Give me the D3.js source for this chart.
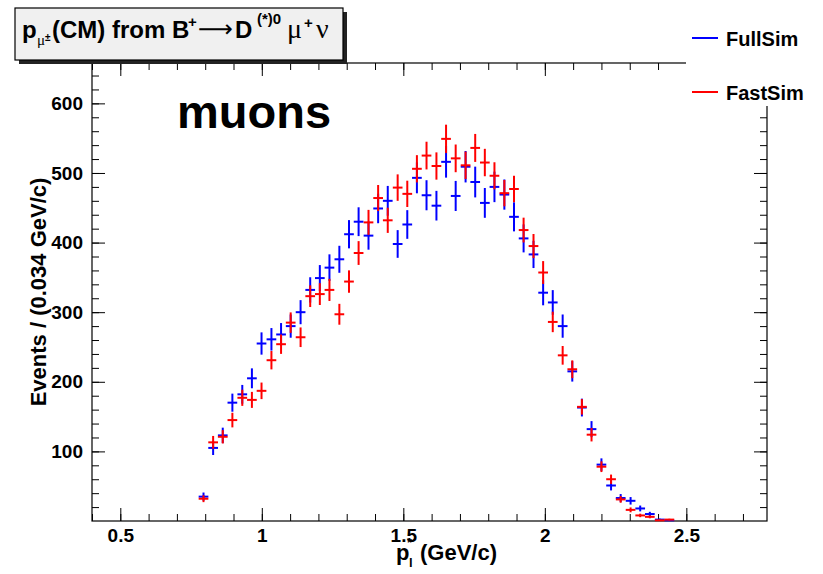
<!DOCTYPE html>
<html>
<head>
<meta charset="utf-8">
<script src="https://d3js.org/d3.v7.min.js"></script>
<style>
  body { margin: 0; background: #fff; }
  svg { display: block; font-family: "Liberation Sans", Arial, sans-serif; }
</style>
</head>
<body>
<div id="chart"></div>
<script>
// bin centres in GeV/c (bins of ~0.034 GeV/c)
var binCentres = [0.794, 0.828, 0.862, 0.896, 0.931, 0.965, 0.999, 1.034, 1.068, 1.102,
  1.137, 1.171, 1.205, 1.239, 1.274, 1.308, 1.342, 1.377, 1.411, 1.445,
  1.480, 1.514, 1.548, 1.582, 1.617, 1.651, 1.685, 1.720, 1.754, 1.788,
  1.822, 1.857, 1.891, 1.925, 1.960, 1.994, 2.028, 2.063, 2.097, 2.131,
  2.165, 2.200, 2.234, 2.268, 2.303, 2.337, 2.371, 2.406, 2.440];
var binWidth = 0.0343;

// FullSim (blue) events per bin and errors
var fullSim = [35, 105, 123, 170, 182, 205, 255, 261, 268, 280,
  300, 332, 349, 364, 376, 412, 430, 410, 449, 460,
  398, 426, 493, 468, 453, 516, 467, 509, 487, 457,
  480, 469, 437, 406, 383, 328, 314, 280, 215, 163,
  132, 81, 51, 33, 29, 18, 10, 2, 1];
var fullSimErr = [5.9, 10.2, 11.1, 13.0, 13.5, 14.3, 16.0, 16.2, 16.4, 16.7,
  17.3, 18.2, 18.7, 19.1, 19.4, 20.3, 20.7, 20.2, 21.2, 21.4,
  19.9, 20.6, 22.2, 21.6, 21.3, 22.7, 21.6, 22.6, 22.1, 21.4,
  21.9, 21.7, 20.9, 20.1, 19.6, 18.1, 17.7, 16.7, 14.7, 12.8,
  11.5, 9.0, 7.1, 5.7, 5.4, 4.2, 3.2, 1.4, 1.0];

// FastSim (red) events per bin and errors
var fastSim = [32, 113, 121, 145, 177, 174, 187, 231, 254, 285,
  264, 323, 326, 332, 297, 344, 385, 429, 464, 432,
  479, 470, 506, 525, 510, 549, 521, 511, 536, 515,
  496, 471, 477, 418, 395, 357, 286, 238, 218, 164,
  124, 78, 60, 31, 16, 8, 6, 1, 2];
var fastSimErr = [4.9, 9.2, 9.6, 10.5, 11.6, 11.5, 11.9, 13.2, 13.9, 14.7,
  14.1, 15.6, 15.7, 15.9, 15.0, 16.1, 17.1, 18.0, 18.7, 18.1,
  19.0, 18.9, 19.6, 19.9, 19.6, 20.4, 19.9, 19.7, 20.1, 19.7,
  19.4, 18.9, 19.0, 17.8, 17.3, 16.4, 14.7, 13.4, 12.8, 11.1,
  9.7, 7.7, 6.7, 4.8, 3.5, 2.5, 2.1, 0.9, 1.2];

var xTickValues = [0.5, 1, 1.5, 2, 2.5];
var yTickValues = [100, 200, 300, 400, 500, 600];

var seriesNames = ["FullSim", "FastSim"];
var seriesColors = ["#0000ff", "#ff0000"];

// SVG area
var svgWidth = 823;
var svgHeight = 574;

var chartMargin = {
  top: 63,
  right: 56,
  bottom: 53,
  left: 92
};

var chartWidth = svgWidth - chartMargin.left - chartMargin.right;
var chartHeight = svgHeight - chartMargin.top - chartMargin.bottom;

var svg = d3.select("#chart").append("svg")
  .attr("width", svgWidth)
  .attr("height", svgHeight);

var chartGroup = svg.append("g")
  .attr("transform", `translate(${chartMargin.left}, ${chartMargin.top})`);

var xScale = d3.scaleLinear().domain([0.4, 2.785]).range([0, chartWidth]);
var yScale = d3.scaleLinear().domain([0, 658]).range([chartHeight, 0]);

var xMinor = d3.range(0.4, 2.79, 0.1).map(d => +d.toFixed(1));
var yMinor = d3.range(20, 658, 20);

function styleAxis(g, size) {
  g.select(".domain").remove();
  g.selectAll("line").attr("stroke", "#000").attr("stroke-width", 1);
  g.selectAll("text")
    .attr("fill", "#000")
    .style("font-size", size + "px")
    .style("font-weight", "bold")
    .style("font-family", "'Liberation Sans', Arial, sans-serif");
}

// bottom axis: labels + major ticks, then minor ticks
chartGroup.append("g")
  .attr("transform", `translate(0, ${chartHeight})`)
  .call(d3.axisBottom(xScale).tickValues(xTickValues).tickSize(-13).tickPadding(8).tickFormat(d3.format("")))
  .call(g => styleAxis(g, 19));
chartGroup.append("g")
  .attr("transform", `translate(0, ${chartHeight})`)
  .call(d3.axisBottom(xScale).tickValues(xMinor).tickSize(-7).tickFormat(""))
  .call(g => styleAxis(g, 19));

// top axis ticks
chartGroup.append("g")
  .call(d3.axisTop(xScale).tickValues(xTickValues).tickSize(-13).tickFormat(""))
  .call(g => styleAxis(g, 19));
chartGroup.append("g")
  .call(d3.axisTop(xScale).tickValues(xMinor).tickSize(-7).tickFormat(""))
  .call(g => styleAxis(g, 19));

// left axis
chartGroup.append("g")
  .call(d3.axisLeft(yScale).tickValues(yTickValues).tickSize(-13).tickPadding(9).tickFormat(d3.format("d")))
  .call(g => styleAxis(g, 19));
chartGroup.append("g")
  .call(d3.axisLeft(yScale).tickValues(yMinor).tickSize(-7).tickFormat(""))
  .call(g => styleAxis(g, 19));

// right axis ticks
chartGroup.append("g")
  .attr("transform", `translate(${chartWidth}, 0)`)
  .call(d3.axisRight(yScale).tickValues(yTickValues).tickSize(-13).tickFormat(""))
  .call(g => styleAxis(g, 19));
chartGroup.append("g")
  .attr("transform", `translate(${chartWidth}, 0)`)
  .call(d3.axisRight(yScale).tickValues(yMinor).tickSize(-7).tickFormat(""))
  .call(g => styleAxis(g, 19));

// frame
chartGroup.append("rect")
  .attr("width", chartWidth)
  .attr("height", chartHeight)
  .attr("fill", "none")
  .attr("stroke", "#000")
  .attr("stroke-width", 1.2);

// data points with error bars
function drawSeries(values, errors, color) {
  var pts = chartGroup.append("g")
    .attr("stroke", color)
    .attr("stroke-width", 2)
    .selectAll("g")
    .data(values.map((v, i) => ({x: binCentres[i], y: v, e: errors[i]})))
    .enter()
    .append("g");

  pts.append("line")
    .attr("x1", d => xScale(d.x))
    .attr("x2", d => xScale(d.x))
    .attr("y1", d => yScale(Math.max(0, d.y - d.e)))
    .attr("y2", d => yScale(d.y + d.e));

  pts.append("line")
    .attr("x1", d => xScale(d.x - binWidth / 2))
    .attr("x2", d => xScale(d.x + binWidth / 2))
    .attr("y1", d => yScale(d.y))
    .attr("y2", d => yScale(d.y));
}

drawSeries(fullSim, fullSimErr, seriesColors[0]);
drawSeries(fastSim, fastSimErr, seriesColors[1]);

// big label
chartGroup.append("text")
  .attr("x", 85)
  .attr("y", 65)
  .style("font-size", "47px")
  .style("font-weight", "bold")
  .text("muons");

// axis titles
var xTitle = svg.append("text")
  .attr("y", 560)
  .style("font-size", "22px")
  .style("font-weight", "bold");
xTitle.append("tspan").attr("x", 396).text("p");
xTitle.append("tspan").attr("x", 407).attr("y", 547).style("font-size", "13px").text("*");
xTitle.append("tspan").attr("x", 409).attr("y", 567).style("font-size", "13px").text("l");
xTitle.append("tspan").attr("x", 420).attr("y", 560).text("(GeV/c)");

svg.append("text")
  .attr("transform", "translate(46, 292) rotate(-90)")
  .attr("text-anchor", "middle")
  .style("font-size", "22px")
  .style("font-weight", "bold")
  .text("Events / (0.034 GeV/c)");

// legend (white box, hides the frame corner)
var legend = svg.append("g");
legend.append("rect")
  .attr("x", 686)
  .attr("y", 14)
  .attr("width", 137)
  .attr("height", 92)
  .attr("fill", "#fff");

seriesNames.forEach(function(name, i) {
  var ly = 38 + i * 54;
  legend.append("line")
    .attr("x1", 692).attr("x2", 718)
    .attr("y1", ly).attr("y2", ly)
    .attr("stroke", seriesColors[i])
    .attr("stroke-width", 2);
  legend.append("text")
    .attr("x", 726)
    .attr("y", ly + 8)
    .style("font-size", "20px")
    .style("font-weight", "bold")
    .text(name);
});

// title box with shadow
var titleBox = svg.append("g");
titleBox.append("rect")
  .attr("x", 19).attr("y", 12)
  .attr("width", 328).attr("height", 52)
  .attr("fill", "#222");
titleBox.append("rect")
  .attr("x", 15).attr("y", 8)
  .attr("width", 328).attr("height", 52)
  .attr("fill", "#f0f0f0")
  .attr("stroke", "#000")
  .attr("stroke-width", 1.2);

var serif = "'Liberation Serif', 'DejaVu Serif', serif";
function titlePart(txt, x, y, size, greek) {
  var t = titleBox.append("text")
    .attr("x", x)
    .attr("y", y)
    .style("font-size", size + "px")
    .style("font-weight", greek ? "normal" : "bold")
    .text(txt);
  if (greek) t.style("font-family", serif);
  return t;
}
titlePart("p", 22, 38, 24, false);
titlePart("\u03bc", 37, 45, 15, true);
titlePart("\u00b1", 45, 41, 10, false);
titlePart("(CM) from B", 52, 38, 24, false);
titlePart("+", 188, 27, 15, false);

// long thin arrow, stretched to ~35px wide
var arrow = titlePart("\u27f6", 0, 0, 24, true).style("font-family", "'DejaVu Sans', sans-serif");
var arrowBox = arrow.node().getBBox();
arrow.attr("transform",
  `translate(${198 - arrowBox.x * 35 / arrowBox.width}, 37) scale(${35 / arrowBox.width}, 1)`);

titlePart("D", 235, 38, 24, false);
titlePart("(*)0", 257, 24, 15, false);
titlePart("\u03bc", 287, 38, 28, true);
titlePart("+", 304, 28, 15, false);
titlePart("\u03bd", 316, 38, 28, true);
</script>
</body>
</html>
